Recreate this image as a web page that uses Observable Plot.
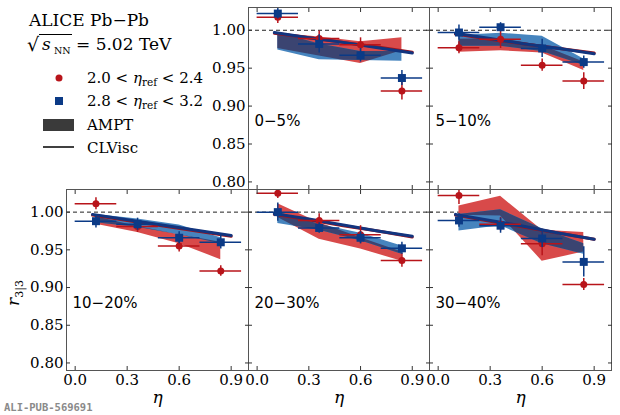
<!DOCTYPE html>
<html><head><meta charset="utf-8">
<script src="https://cdn.jsdelivr.net/npm/d3@7"></script>
<script src="https://cdn.jsdelivr.net/npm/@observablehq/plot@0.6"></script>
<style>
body{margin:0;background:#fff;}
#fig{position:relative;width:620px;height:415px;overflow:hidden;font-family:"DejaVu Serif";}
#fig svg{position:absolute;}
</style></head><body><div id="fig">
<svg id="legend" width="620" height="415" style="left:0;top:0;pointer-events:none" font-family="DejaVu Serif">
  <text x="29" y="26" font-size="17">ALICE Pb−Pb</text>
  <text x="27" y="51" font-size="19">√</text>
  <line x1="39" x2="72" y1="34.5" y2="34.5" stroke="#000" stroke-width="1"/>
  <text x="42" y="50" font-size="17" font-style="italic">s</text>
  <text x="54" y="54" font-size="9.5">NN</text>
  <text x="76" y="50" font-size="17">= 5.02 TeV</text>
  <circle cx="59" cy="78" r="3.5" fill="#b8141a"/>
  <text x="87" y="83" font-size="15">2.0 &lt; <tspan font-style="italic">η</tspan><tspan font-size="10.5" dy="3">ref</tspan><tspan dy="-3"> &lt; 2.4</tspan></text>
  <rect x="55" y="97" width="8" height="8" fill="#0b3a86"/>
  <text x="87" y="106" font-size="15">2.8 &lt; <tspan font-style="italic">η</tspan><tspan font-size="10.5" dy="3">ref</tspan><tspan dy="-3"> &lt; 3.2</tspan></text>
  <rect x="43" y="119" width="31" height="12" fill="#3a3a3a"/>
  <text x="87" y="130" font-size="15">AMPT</text>
  <line x1="43" x2="74" y1="147" y2="147" stroke="#000" stroke-width="1.5"/>
  <text x="87" y="153" font-size="15">CLVisc</text>
  <text transform="translate(19,293) rotate(-90)" text-anchor="middle" font-size="17"><tspan font-style="italic">r</tspan><tspan font-size="11" dy="4">3|3</tspan></text>
  <text x="4" y="411" font-size="10.5" font-family="DejaVu Sans Mono" font-weight="bold" fill="#8a8a8a">ALI-PUB-569691</text>
</svg>
</div>
<script>
// ---- data ----
const eta = [0.12, 0.36, 0.60, 0.84];
const etaHalfWidth = [0.12, 0.12, 0.12, 0.12];
const centralities = ["0−5%", "5−10%", "10−20%", "20−30%", "30−40%"];

// 2.0 < eta_ref < 2.4 (red circles)
const redVal = [
  [1.017, 0.989, 0.981, 0.920],
  [0.977, 0.988, 0.954, 0.933],
  [1.011, 0.981, 0.955, 0.922],
  [1.025, 0.989, 0.970, 0.936],
  [1.022, 0.984, 0.958, 0.904]
];
const redErr = [
  [0.008, 0.010, 0.009, 0.012],
  [0.008, 0.012, 0.008, 0.011],
  [0.008, 0.008, 0.008, 0.007],
  [0.007, 0.009, 0.012, 0.009],
  [0.012, 0.009, 0.016, 0.008]
];
// 2.8 < eta_ref < 3.2 (blue squares)
const blueVal = [
  [1.022, 0.982, 0.967, 0.937],
  [0.997, 1.004, 0.976, 0.958],
  [0.988, 0.984, 0.966, 0.960],
  [1.000, 0.979, 0.966, 0.952],
  [0.989, 0.982, 0.965, 0.934]
];
const blueErr = [
  [0.007, 0.012, 0.009, 0.010],
  [0.010, 0.006, 0.012, 0.008],
  [0.009, 0.008, 0.008, 0.009],
  [0.012, 0.007, 0.008, 0.008],
  [0.009, 0.010, 0.012, 0.020]
];
// AMPT bands
const amptRedLo = [
  [0.976, 0.966, 0.956, 0.973],
  [0.971, 0.973, 0.970, 0.947],
  [0.984, 0.973, 0.958, 0.937],
  [0.993, 0.964, 0.951, 0.935],
  [0.996, 0.995, 0.935, 0.947]
];
const amptRedHi = [
  [0.996, 0.991, 0.985, 0.990],
  [0.988, 0.989, 0.980, 0.958],
  [0.994, 0.981, 0.970, 0.960],
  [1.011, 0.986, 0.966, 0.947],
  [1.008, 1.021, 0.976, 0.973]
];
const amptBlueLo = [
  [0.974, 0.961, 0.960, 0.959],
  [0.979, 0.979, 0.972, 0.954],
  [0.986, 0.980, 0.970, 0.958],
  [0.985, 0.976, 0.962, 0.944],
  [0.975, 0.982, 0.958, 0.944]
];
const amptBlueHi = [
  [0.997, 0.982, 0.972, 0.972],
  [0.993, 0.996, 0.992, 0.962],
  [0.997, 0.991, 0.983, 0.966],
  [1.000, 0.984, 0.972, 0.955],
  [0.997, 1.003, 0.978, 0.958]
];
// CLVisc lines
const clviscEta = [0.1, 0.3, 0.5, 0.7, 0.9];
const clviscRed = [
  [0.996, 0.990, 0.984, 0.978, 0.971],
  [0.995, 0.988, 0.982, 0.976, 0.970],
  [0.996, 0.989, 0.982, 0.975, 0.968],
  [0.997, 0.990, 0.982, 0.975, 0.967],
  [0.996, 0.988, 0.980, 0.972, 0.964]
];
const clviscBlue = [
  [0.997, 0.990, 0.984, 0.977, 0.970],
  [0.996, 0.989, 0.982, 0.976, 0.969],
  [0.997, 0.990, 0.983, 0.976, 0.969],
  [0.998, 0.991, 0.983, 0.975, 0.968],
  [0.997, 0.989, 0.981, 0.972, 0.964]
];
const yTicks = [0.80, 0.85, 0.90, 0.95, 1.00];
const xTicks = [0.0, 0.3, 0.6, 0.9];
const xDomain = [-0.05, 1.0];
const yDomain = [0.79, 1.03];

// ---- layout ----
const RED = "#b8141a", BLUE = "#0b3a86";
const BAND_RED = "#d84a4a", BAND_BLUE = "#4684be", BAND_BOTH = "#3b4471";
const frames = [
  {l: 248, t: 7,   w: 181, h: 182, showY: true,  showX: false},
  {l: 429, t: 7,   w: 182, h: 182, showY: false, showX: false},
  {l: 66,  t: 189, w: 182, h: 181, showY: true,  showX: true},
  {l: 248, t: 189, w: 181, h: 181, showY: false, showX: true},
  {l: 429, t: 189, w: 182, h: 181, showY: false, showX: true}
];
const fig = document.getElementById("fig");
const NS = "http://www.w3.org/2000/svg";

frames.forEach((f, k) => {
  const mL = f.showY ? 66 : 2, mR = 3, mT = 3, mB = f.showX ? 42 : 3;
  const pts = eta.map((e, j) => ({
    e, hw: etaHalfWidth[j],
    r: redVal[k][j], re: redErr[k][j], b: blueVal[k][j], be: blueErr[k][j],
    rlo: amptRedLo[k][j], rhi: amptRedHi[k][j], blo: amptBlueLo[k][j], bhi: amptBlueHi[k][j]
  }));
  const cl = clviscEta.map((e, j) => ({e, r: clviscRed[k][j], b: clviscBlue[k][j]}));
  const blank = () => "";
  const p = Plot.plot({
    width: f.w + mL + mR, height: f.h + mT + mB,
    marginLeft: mL, marginRight: mR, marginTop: mT, marginBottom: mB,
    x: {domain: xDomain}, y: {domain: yDomain},
    style: {background: "transparent", overflow: "visible", fontFamily: "DejaVu Serif", color: "#000"},
    marks: [
      Plot.ruleY([1], {stroke: "#222", strokeDasharray: "4,3", strokeWidth: 1}),
      Plot.areaY(pts, {x: "e", y1: "rlo", y2: "rhi", fill: BAND_RED}),
      Plot.areaY(pts, {x: "e", y1: "blo", y2: "bhi", fill: BAND_BLUE}),
      Plot.line(cl, {x: "e", y: "r", stroke: "#a51418", strokeWidth: 3}),
      Plot.line(cl, {x: "e", y: "b", stroke: "#12357f", strokeWidth: 3}),
      Plot.ruleY(pts, {y: "r", x1: d => d.e - d.hw, x2: d => d.e + d.hw, stroke: RED, strokeWidth: 1.5, clip: true}),
      Plot.ruleX(pts, {x: "e", y1: d => d.r - d.re, y2: d => d.r + d.re, stroke: RED, strokeWidth: 1.5, clip: true}),
      Plot.dot(pts, {x: "e", y: "r", r: 3.5, fill: RED, symbol: "circle", clip: true}),
      Plot.ruleY(pts, {y: "b", x1: d => d.e - d.hw, x2: d => d.e + d.hw, stroke: BLUE, strokeWidth: 1.5, clip: true}),
      Plot.ruleX(pts, {x: "e", y1: d => d.b - d.be, y2: d => d.b + d.be, stroke: BLUE, strokeWidth: 1.5, clip: true}),
      Plot.dot(pts, {x: "e", y: "b", r: 4.5, fill: BLUE, symbol: "square", clip: true}),
      Plot.text([centralities[k]], {text: d => d, frameAnchor: "top-left", dx: 6, dy: 108, textAnchor: "start",
        fontFamily: "DejaVu Sans", fontSize: 15}),
      Plot.frame({stroke: "#555", strokeWidth: 1}),
      Plot.axisY(yTicks, {anchor: "left", tickSize: -4, tickPadding: 7, label: null, fontSize: 15,
        tickFormat: f.showY ? d => d.toFixed(2) : blank, stroke: "#333"}),
      Plot.axisY(yTicks, {anchor: "right", tickSize: -4, label: null, tickFormat: blank, stroke: "#333"}),
      Plot.axisX(xTicks, {anchor: "bottom", tickSize: -4, tickPadding: 8, label: null, fontSize: 15,
        tickFormat: f.showX ? d => d.toFixed(1) : blank, stroke: "#333"}),
      Plot.axisX(xTicks, {anchor: "top", tickSize: -4, label: null, tickFormat: blank, stroke: "#333"}),
      f.showX ? Plot.text(["η"], {text: d => d, frameAnchor: "bottom", dy: 32, fontStyle: "italic", fontSize: 17}) : null
    ]
  });
  // overlap of the two AMPT bands drawn darker (blue band clipped to the red band)
  const areas = Array.from(p.querySelectorAll("path")).filter(el => el.getAttribute("fill") === BAND_RED || el.getAttribute("fill") === BAND_BLUE
    || (el.parentNode.getAttribute && (el.parentNode.getAttribute("fill") === BAND_RED || el.parentNode.getAttribute("fill") === BAND_BLUE)));
  if (areas.length >= 2) {
    const redPath = areas[0], bluePath = areas[1];
    const defs = document.createElementNS(NS, "defs");
    const cp = document.createElementNS(NS, "clipPath");
    cp.setAttribute("id", "ovl" + k);
    const cpp = document.createElementNS(NS, "path");
    cpp.setAttribute("d", redPath.getAttribute("d"));
    cp.appendChild(cpp); defs.appendChild(cp); p.insertBefore(defs, p.firstChild);
    const ov = document.createElementNS(NS, "path");
    ov.setAttribute("d", bluePath.getAttribute("d"));
    ov.setAttribute("fill", BAND_BOTH);
    ov.setAttribute("clip-path", "url(#ovl" + k + ")");
    bluePath.parentNode.appendChild(ov);
  }
  p.style.left = (f.l - mL) + "px";
  p.style.top = (f.t - mT) + "px";
  fig.insertBefore(p, document.getElementById("legend"));
});
</script>
</body></html>
